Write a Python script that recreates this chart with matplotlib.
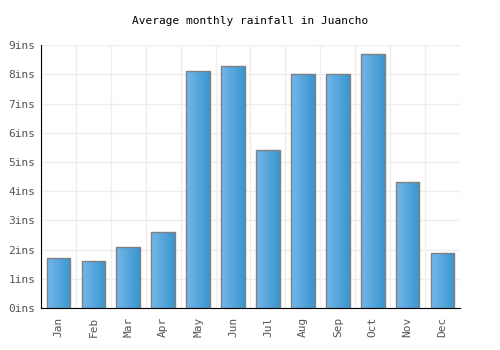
import numpy as np
import matplotlib.pyplot as plt
from matplotlib.colors import LinearSegmentedColormap

months = ['Jan', 'Feb', 'Mar', 'Apr', 'May', 'Jun', 'Jul', 'Aug', 'Sep', 'Oct', 'Nov', 'Dec']
rainfall = [1.7, 1.6, 2.1, 2.6, 8.1, 8.3, 5.4, 8.0, 8.0, 8.7, 4.3, 1.9]
yticks = list(range(0, 10))
ytick_labels = [f'{v}ins' for v in yticks]

plt.rcParams['font.family'] = ['DejaVu Sans Mono']

fig = plt.figure(figsize=(5, 3.5), dpi=100)
ax = fig.add_axes([0.082, 0.12, 0.838, 0.751])

x = np.arange(len(months))
width = 0.68
bars = ax.bar(x, rainfall, width=width, color='none', edgecolor='#808080', linewidth=1, zorder=3)

cmap = LinearSegmentedColormap.from_list('bar', ['#74b6ea', '#3996cf'])
grad = np.linspace(0, 1, 64).reshape(1, -1)
for b in bars:
    x0, y0 = b.get_x(), b.get_y()
    im = ax.imshow(grad, cmap=cmap, aspect='auto', zorder=2,
                   extent=[x0, x0 + b.get_width(), y0, y0 + b.get_height()])
    im.set_clip_path(b)

ax.set_xlim(-0.5, len(months) - 0.5)
ax.set_ylim(0, 9)
ax.set_yticks(yticks)
ax.set_yticklabels(ytick_labels)
ax.set_xticks(x)
ax.set_xticklabels(months, rotation=90)
ax.set_xticks(np.arange(-0.5, len(months), 1), minor=True)
ax.tick_params(axis='x', which='both', length=0, labelsize=8, colors='#555555', pad=6)
ax.tick_params(axis='y', length=0, labelsize=8, colors='#555555', pad=4)
ax.grid(True, axis='y', color='#eeeeee', linewidth=1, zorder=0)
ax.grid(True, axis='x', which='minor', color='#eeeeee', linewidth=1, zorder=0)

for side in ['top', 'right']:
    ax.spines[side].set_visible(False)
ax.spines['left'].set_color('black')
ax.spines['bottom'].set_color('black')

fig.suptitle('Average monthly rainfall in Juancho', fontsize=8, y=0.955)

plt.savefig('out.png', dpi=100)
plt.close()
